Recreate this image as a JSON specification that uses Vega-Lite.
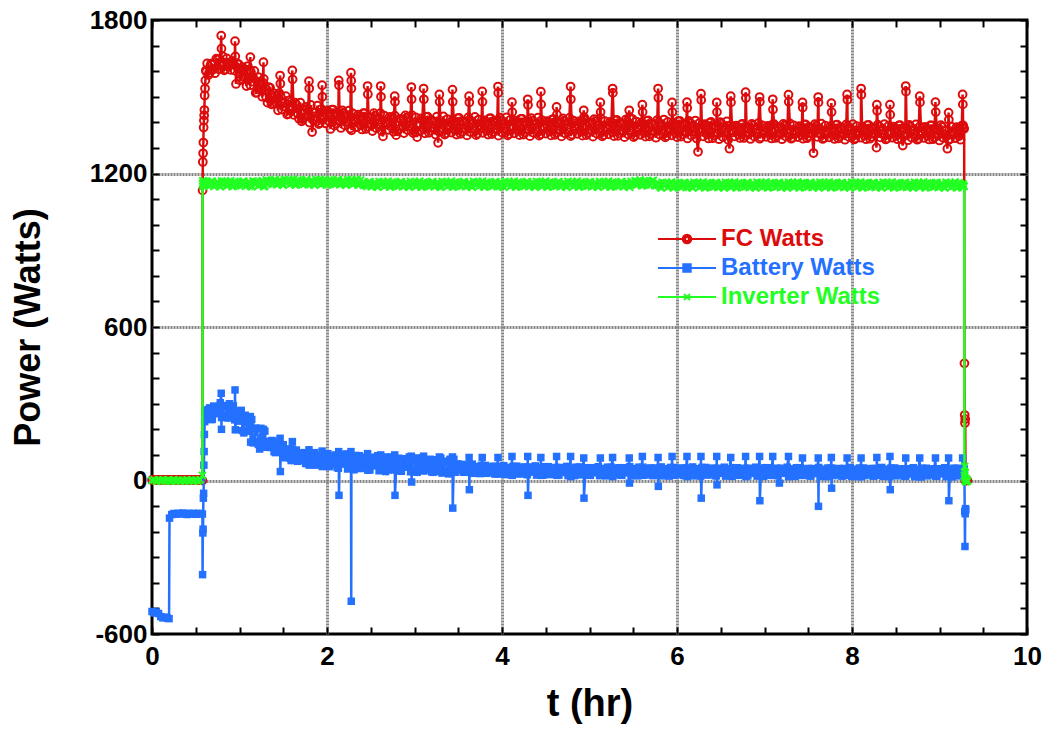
{
"$schema":"https://vega.github.io/schema/vega-lite/v6.json",
"width":875,"height":614,
"autosize":{"type":"none"},
"padding":{"left":152,"top":20,"right":20,"bottom":98},
"background":"white",
"config":{"view":{"stroke":"black","strokeWidth":3},"font":"Liberation Sans",
 "axis":{"domain":false,"labelFont":"Liberation Sans","labelFontWeight":"bold","labelFontSize":26,"labelColor":"black","titleFont":"Liberation Sans","titleFontWeight":"bold","titleColor":"black","tickColor":"black","tickWidth":2,"labelOverlap":false,"labelFlush":false,"gridColor":"#858585","gridWidth":3,"gridDash":[2,1]}},
"data":{"values":[
{"t":0,"f":2,"b":-512,"i":0},{"t":0.025,"f":2,"b":-518,"i":3},{"t":0.05,"f":2,"b":-514,"i":-3},{"t":0.075,"f":2,"b":-520,"i":2},{"t":0.1,"f":2,"b":-532,"i":-2},{"t":0.125,"f":2,"b":-537,"i":3},{"t":0.15,"f":2,"b":-534,"i":-1},{"t":0.175,"f":2,"b":-538,"i":2},{"t":0.195,"f":2,"b":-540,"i":-3},{"t":0.2,"f":2,"b":-147,"i":1},{"t":0.225,"f":2,"b":-133,"i":-2},{"t":0.25,"f":2,"b":-129,"i":3},{"t":0.275,"f":2,"b":-132,"i":-1},{"t":0.3,"f":2,"b":-128,"i":2},{"t":0.325,"f":2,"b":-131,"i":-3},{"t":0.35,"f":2,"b":-127,"i":1},{"t":0.375,"f":2,"b":-130,"i":-2},{"t":0.4,"f":2,"b":-133,"i":3},{"t":0.425,"f":2,"b":-128,"i":-1},{"t":0.45,"f":2,"b":-131,"i":2},{"t":0.475,"f":2,"b":-129,"i":-3},{"t":0.5,"f":2,"b":-132,"i":1},{"t":0.525,"f":2,"b":-128,"i":-2},{"t":0.55,"f":2,"b":-130,"i":3},{"t":0.576,"f":0,"b":-131,"i":20},
{"t":0.578,"f":1134,"b":-368,"i":1160},{"t":0.581,"f":1245,"b":-205,"i":1172},{"t":0.584,"f":1279,"b":-190,"i":1150},{"t":0.587,"f":1321,"b":-69,"i":1165},{"t":0.59,"f":1380,"b":-50,"i":1158},{"t":0.593,"f":1407,"b":60,"i":1170},{"t":0.596,"f":1427,"b":113,"i":1162},{"t":0.599,"f":1448,"b":180,"i":1166},{"t":0.602,"f":1505,"b":230,"i":1155},{"t":0.606,"f":1532,"b":263,"i":1168},{"t":0.61,"f":1564,"b":240,"i":1160},{"t":0.615,"f":1603,"b":250,"i":1164},{"t":0.62,"f":1598,"b":275,"i":1157},
{"t":0.63,"f":1630,"b":240,"i":1165},{"t":0.66,"f":1593,"b":284,"i":1152},{"t":0.69,"f":1626,"b":239,"i":1170},{"t":0.72,"f":1592,"b":279,"i":1157},{"t":0.75,"f":1645,"b":266,"i":1167},{"t":0.78,"f":1622,"b":304,"i":1148},{"t":0.81,"f":1658,"b":254,"i":1162},{"t":0.84,"f":1607,"b":293,"i":1169},{"t":0.87,"f":1631,"b":244,"i":1154},{"t":0.9,"f":1605,"b":278,"i":1172},{"t":0.93,"f":1632,"b":292,"i":1150},{"t":0.96,"f":1550,"b":243,"i":1164},{"t":0.99,"f":1627,"b":232,"i":1165},
{"t":1.02,"f":1570,"b":274,"i":1152},{"t":1.05,"f":1606,"b":186,"i":1170},{"t":1.08,"f":1542,"b":228,"i":1157},{"t":1.11,"f":1606,"b":193,"i":1167},{"t":1.14,"f":1559,"b":238,"i":1148},{"t":1.17,"f":1601,"b":152,"i":1162},{"t":1.2,"f":1516,"b":202,"i":1169},{"t":1.23,"f":1545,"b":123,"i":1154},{"t":1.26,"f":1500,"b":169,"i":1172},{"t":1.29,"f":1540,"b":193,"i":1150},
{"t":1.32,"f":1477,"b":136,"i":1170},{"t":1.35,"f":1535,"b":129,"i":1171},{"t":1.38,"f":1474,"b":156,"i":1158},{"t":1.41,"f":1503,"b":109,"i":1176},{"t":1.44,"f":1447,"b":134,"i":1163},{"t":1.47,"f":1502,"b":115,"i":1173},{"t":1.5,"f":1462,"b":140,"i":1154},{"t":1.53,"f":1502,"b":93,"i":1168},{"t":1.56,"f":1433,"b":122,"i":1175},{"t":1.59,"f":1463,"b":78,"i":1160},{"t":1.62,"f":1429,"b":105,"i":1178},{"t":1.65,"f":1469,"b":119,"i":1156},{"t":1.68,"f":1414,"b":84,"i":1170},{"t":1.71,"f":1404,"b":79,"i":1171},{"t":1.74,"f":1419,"b":109,"i":1158},{"t":1.77,"f":1452,"b":66,"i":1176},{"t":1.8,"f":1399,"b":94,"i":1163},{"t":1.83,"f":1362,"b":80,"i":1173},{"t":1.86,"f":1423,"b":109,"i":1154},{"t":1.89,"f":1465,"b":65,"i":1168},{"t":1.92,"f":1397,"b":96,"i":1175},{"t":1.95,"f":1428,"b":55,"i":1160},{"t":1.98,"f":1396,"b":84,"i":1178},
{"t":2.01,"f":1439,"b":105,"i":1156},{"t":2.04,"f":1374,"b":65,"i":1170},{"t":2.07,"f":1450,"b":62,"i":1171},{"t":2.1,"f":1395,"b":100,"i":1158},{"t":2.13,"f":1429,"b":48,"i":1176},{"t":2.16,"f":1378,"b":84,"i":1163},{"t":2.19,"f":1437,"b":68,"i":1173},{"t":2.22,"f":1403,"b":104,"i":1154},{"t":2.25,"f":1446,"b":52,"i":1168},{"t":2.28,"f":1369,"b":90,"i":1175},{"t":2.31,"f":1412,"b":42,"i":1160},{"t":2.34,"f":1381,"b":77,"i":1178},{"t":2.37,"f":1424,"b":97,"i":1156},{"t":2.4,"f":1372,"b":58,"i":1162},{"t":2.43,"f":1436,"b":54,"i":1163},{"t":2.46,"f":1382,"b":93,"i":1150},{"t":2.49,"f":1417,"b":41,"i":1168},{"t":2.52,"f":1366,"b":77,"i":1155},{"t":2.55,"f":1426,"b":61,"i":1165},{"t":2.58,"f":1393,"b":97,"i":1146},{"t":2.61,"f":1436,"b":45,"i":1160},{"t":2.64,"f":1345,"b":84,"i":1167},{"t":2.67,"f":1402,"b":35,"i":1152},{"t":2.7,"f":1371,"b":71,"i":1170},{"t":2.73,"f":1414,"b":91,"i":1148},{"t":2.76,"f":1363,"b":52,"i":1162},{"t":2.79,"f":1350,"b":48,"i":1163},{"t":2.82,"f":1373,"b":87,"i":1150},{"t":2.85,"f":1408,"b":36,"i":1168},{"t":2.88,"f":1358,"b":71,"i":1155},{"t":2.91,"f":1418,"b":56,"i":1165},{"t":2.94,"f":1385,"b":92,"i":1146},{"t":2.97,"f":1428,"b":41,"i":1160},{"t":3.0,"f":1363,"b":80,"i":1167},{"t":3.03,"f":1342,"b":32,"i":1152},{"t":3.06,"f":1365,"b":67,"i":1170},{"t":3.09,"f":1409,"b":88,"i":1148},{"t":3.12,"f":1357,"b":48,"i":1162},{"t":3.15,"f":1422,"b":45,"i":1163},{"t":3.18,"f":1367,"b":83,"i":1150},{"t":3.21,"f":1403,"b":32,"i":1168},{"t":3.24,"f":1352,"b":67,"i":1155},{"t":3.27,"f":1320,"b":52,"i":1165},{"t":3.3,"f":1379,"b":88,"i":1146},{"t":3.33,"f":1423,"b":36,"i":1160},{"t":3.36,"f":1357,"b":75,"i":1167},{"t":3.39,"f":1390,"b":26,"i":1152},{"t":3.42,"f":1360,"b":62,"i":1170},{"t":3.45,"f":1403,"b":83,"i":1148},{"t":3.48,"f":1352,"b":43,"i":1162},
{"t":3.51,"f":1417,"b":41,"i":1163},{"t":3.54,"f":1363,"b":63,"i":1150},{"t":3.57,"f":1399,"b":32,"i":1168},{"t":3.6,"f":1349,"b":52,"i":1155},{"t":3.63,"f":1410,"b":43,"i":1165},{"t":3.66,"f":1377,"b":64,"i":1146},{"t":3.69,"f":1421,"b":32,"i":1160},{"t":3.72,"f":1356,"b":55,"i":1167},{"t":3.75,"f":1389,"b":27,"i":1152},{"t":3.78,"f":1359,"b":48,"i":1170},{"t":3.81,"f":1403,"b":59,"i":1148},{"t":3.84,"f":1352,"b":36,"i":1162},{"t":3.87,"f":1416,"b":33,"i":1163},{"t":3.9,"f":1362,"b":56,"i":1150},{"t":3.93,"f":1398,"b":26,"i":1168},{"t":3.96,"f":1348,"b":46,"i":1155},{"t":3.99,"f":1409,"b":36,"i":1165},{"t":4.02,"f":1376,"b":58,"i":1146},{"t":4.05,"f":1419,"b":27,"i":1160},{"t":4.08,"f":1354,"b":51,"i":1167},{"t":4.11,"f":1387,"b":22,"i":1152},{"t":4.14,"f":1357,"b":44,"i":1170},{"t":4.17,"f":1401,"b":56,"i":1148},{"t":4.2,"f":1350,"b":32,"i":1162},{"t":4.23,"f":1414,"b":30,"i":1163},{"t":4.26,"f":1360,"b":53,"i":1150},{"t":4.29,"f":1396,"b":23,"i":1168},{"t":4.32,"f":1346,"b":44,"i":1155},{"t":4.35,"f":1407,"b":35,"i":1165},{"t":4.38,"f":1374,"b":57,"i":1146},{"t":4.41,"f":1418,"b":26,"i":1160},{"t":4.44,"f":1353,"b":50,"i":1167},{"t":4.47,"f":1386,"b":21,"i":1152},{"t":4.5,"f":1356,"b":42,"i":1170},{"t":4.53,"f":1400,"b":54,"i":1148},{"t":4.56,"f":1349,"b":31,"i":1162},{"t":4.59,"f":1413,"b":28,"i":1163},{"t":4.62,"f":1359,"b":51,"i":1150},{"t":4.65,"f":1395,"b":21,"i":1168},{"t":4.68,"f":1345,"b":42,"i":1155},{"t":4.71,"f":1406,"b":33,"i":1165},{"t":4.74,"f":1373,"b":55,"i":1146},{"t":4.77,"f":1417,"b":24,"i":1160},{"t":4.8,"f":1352,"b":48,"i":1167},{"t":4.83,"f":1385,"b":19,"i":1152},{"t":4.86,"f":1355,"b":41,"i":1170},{"t":4.89,"f":1399,"b":53,"i":1148},{"t":4.92,"f":1348,"b":30,"i":1162},{"t":4.95,"f":1412,"b":27,"i":1163},{"t":4.98,"f":1358,"b":50,"i":1150},{"t":5.01,"f":1394,"b":20,"i":1168},{"t":5.04,"f":1344,"b":41,"i":1155},{"t":5.07,"f":1405,"b":32,"i":1165},{"t":5.1,"f":1372,"b":54,"i":1146},{"t":5.13,"f":1415,"b":23,"i":1160},{"t":5.16,"f":1350,"b":47,"i":1167},{"t":5.19,"f":1383,"b":18,"i":1152},{"t":5.22,"f":1353,"b":40,"i":1170},{"t":5.25,"f":1397,"b":52,"i":1148},{"t":5.28,"f":1346,"b":29,"i":1162},{"t":5.31,"f":1410,"b":27,"i":1163},{"t":5.34,"f":1356,"b":50,"i":1150},{"t":5.37,"f":1392,"b":20,"i":1168},{"t":5.4,"f":1342,"b":41,"i":1155},{"t":5.43,"f":1403,"b":32,"i":1165},{"t":5.46,"f":1370,"b":54,"i":1146},{"t":5.49,"f":1413,"b":23,"i":1160},{"t":5.52,"f":1348,"b":47,"i":1172},{"t":5.55,"f":1381,"b":18,"i":1157},{"t":5.58,"f":1351,"b":40,"i":1175},{"t":5.61,"f":1395,"b":52,"i":1153},{"t":5.64,"f":1344,"b":29,"i":1167},{"t":5.67,"f":1408,"b":26,"i":1168},{"t":5.7,"f":1354,"b":49,"i":1155},{"t":5.73,"f":1390,"b":19,"i":1173},{"t":5.76,"f":1340,"b":40,"i":1152},{"t":5.79,"f":1401,"b":31,"i":1162},{"t":5.82,"f":1368,"b":53,"i":1143},{"t":5.85,"f":1411,"b":22,"i":1157},{"t":5.88,"f":1346,"b":46,"i":1164},{"t":5.91,"f":1379,"b":17,"i":1149},{"t":5.94,"f":1349,"b":39,"i":1167},{"t":5.97,"f":1393,"b":51,"i":1145},{"t":6.0,"f":1342,"b":28,"i":1159},{"t":6.03,"f":1406,"b":26,"i":1160},{"t":6.06,"f":1352,"b":49,"i":1147},{"t":6.09,"f":1387,"b":19,"i":1165},{"t":6.12,"f":1337,"b":40,"i":1152},{"t":6.15,"f":1398,"b":31,"i":1162},{"t":6.18,"f":1365,"b":53,"i":1143},{"t":6.21,"f":1407,"b":22,"i":1157},{"t":6.24,"f":1285,"b":46,"i":1164},{"t":6.27,"f":1375,"b":17,"i":1149},{"t":6.3,"f":1345,"b":39,"i":1167},{"t":6.33,"f":1388,"b":51,"i":1145},{"t":6.36,"f":1337,"b":28,"i":1159},{"t":6.39,"f":1402,"b":25,"i":1160},{"t":6.42,"f":1348,"b":48,"i":1147},{"t":6.45,"f":1384,"b":18,"i":1165},{"t":6.48,"f":1334,"b":39,"i":1152},{"t":6.51,"f":1395,"b":30,"i":1162},{"t":6.54,"f":1362,"b":52,"i":1143},{"t":6.57,"f":1404,"b":21,"i":1157},{"t":6.6,"f":1297,"b":45,"i":1164},
{"t":6.63,"f":1370,"b":16,"i":1149},{"t":6.66,"f":1345,"b":38,"i":1167},{"t":6.69,"f":1382,"b":50,"i":1145},{"t":6.72,"f":1339,"b":27,"i":1159},{"t":6.75,"f":1394,"b":25,"i":1160},{"t":6.78,"f":1347,"b":48,"i":1147},{"t":6.81,"f":1378,"b":18,"i":1165},{"t":6.84,"f":1335,"b":39,"i":1152},{"t":6.87,"f":1388,"b":30,"i":1162},{"t":6.9,"f":1359,"b":52,"i":1143},{"t":6.93,"f":1397,"b":21,"i":1157},{"t":6.96,"f":1341,"b":45,"i":1164},{"t":6.99,"f":1368,"b":16,"i":1149},{"t":7.02,"f":1343,"b":38,"i":1167},{"t":7.05,"f":1380,"b":50,"i":1145},{"t":7.08,"f":1337,"b":27,"i":1159},{"t":7.11,"f":1393,"b":25,"i":1160},{"t":7.14,"f":1346,"b":48,"i":1147},{"t":7.17,"f":1377,"b":-10,"i":1165},{"t":7.2,"f":1334,"b":39,"i":1152},{"t":7.23,"f":1387,"b":30,"i":1162},{"t":7.26,"f":1358,"b":52,"i":1143},{"t":7.29,"f":1396,"b":21,"i":1157},{"t":7.32,"f":1340,"b":45,"i":1164},{"t":7.35,"f":1367,"b":16,"i":1149},{"t":7.38,"f":1342,"b":38,"i":1167},{"t":7.41,"f":1379,"b":50,"i":1145},{"t":7.44,"f":1336,"b":27,"i":1159},{"t":7.47,"f":1392,"b":24,"i":1160},{"t":7.5,"f":1345,"b":47,"i":1147},{"t":7.53,"f":1376,"b":17,"i":1165},{"t":7.56,"f":1280,"b":38,"i":1152},{"t":7.59,"f":1386,"b":29,"i":1162},{"t":7.62,"f":1357,"b":51,"i":1143},{"t":7.65,"f":1395,"b":20,"i":1157},{"t":7.68,"f":1339,"b":44,"i":1164},{"t":7.71,"f":1366,"b":15,"i":1149},{"t":7.74,"f":1341,"b":37,"i":1167},{"t":7.77,"f":1378,"b":49,"i":1145},{"t":7.8,"f":1335,"b":26,"i":1159},{"t":7.83,"f":1391,"b":24,"i":1160},{"t":7.86,"f":1344,"b":47,"i":1147},{"t":7.89,"f":1375,"b":17,"i":1165},{"t":7.92,"f":1332,"b":38,"i":1152},{"t":7.95,"f":1385,"b":29,"i":1162},{"t":7.98,"f":1356,"b":51,"i":1143},{"t":8.01,"f":1393,"b":20,"i":1157},{"t":8.04,"f":1337,"b":44,"i":1164},{"t":8.07,"f":1365,"b":15,"i":1149},{"t":8.1,"f":1340,"b":37,"i":1167},{"t":8.13,"f":1377,"b":49,"i":1145},{"t":8.16,"f":1334,"b":26,"i":1159},{"t":8.19,"f":1390,"b":24,"i":1160},{"t":8.22,"f":1343,"b":47,"i":1147},{"t":8.25,"f":1374,"b":17,"i":1165},{"t":8.28,"f":1301,"b":38,"i":1152},{"t":8.31,"f":1384,"b":29,"i":1162},{"t":8.34,"f":1355,"b":51,"i":1143},{"t":8.37,"f":1393,"b":20,"i":1157},{"t":8.4,"f":1337,"b":44,"i":1164},{"t":8.43,"f":1365,"b":15,"i":1149},{"t":8.46,"f":1340,"b":37,"i":1167},{"t":8.49,"f":1377,"b":49,"i":1145},{"t":8.52,"f":1334,"b":26,"i":1159},{"t":8.55,"f":1389,"b":23,"i":1160},{"t":8.58,"f":1309,"b":46,"i":1147},{"t":8.61,"f":1373,"b":16,"i":1165},{"t":8.64,"f":1330,"b":37,"i":1152},{"t":8.67,"f":1383,"b":28,"i":1162},{"t":8.7,"f":1354,"b":50,"i":1143},{"t":8.73,"f":1392,"b":19,"i":1157},{"t":8.76,"f":1336,"b":43,"i":1164},{"t":8.79,"f":1364,"b":14,"i":1149},{"t":8.82,"f":1339,"b":36,"i":1167},{"t":8.85,"f":1376,"b":48,"i":1145},{"t":8.88,"f":1333,"b":25,"i":1159},{"t":8.91,"f":1388,"b":23,"i":1160},{"t":8.94,"f":1341,"b":46,"i":1147},{"t":8.97,"f":1372,"b":16,"i":1165},{"t":9.0,"f":1329,"b":37,"i":1152},{"t":9.03,"f":1382,"b":28,"i":1162},{"t":9.06,"f":1353,"b":50,"i":1143},{"t":9.09,"f":1297,"b":19,"i":1157},{"t":9.12,"f":1335,"b":43,"i":1164},{"t":9.15,"f":1363,"b":14,"i":1149},{"t":9.18,"f":1338,"b":36,"i":1167},{"t":9.21,"f":1375,"b":48,"i":1145},{"t":9.24,"f":1332,"b":25,"i":1159},{"t":9.27,"f":1388,"b":23,"i":1160},
{"t":0.645,"f":1585,"b":278,"i":1154},{"t":0.675,"f":1629,"b":238,"i":1169},{"t":0.705,"f":1608,"b":291,"i":1150},{"t":0.735,"f":1649,"b":261,"i":1164},{"t":0.765,"f":1607,"b":286,"i":1153},{"t":0.795,"f":1637,"b":246,"i":1171},{"t":0.825,"f":1603,"b":292,"i":1157},{"t":0.855,"f":1650,"b":255,"i":1152},{"t":0.885,"f":1621,"b":300,"i":1166},{"t":0.915,"f":1640,"b":263,"i":1149},{"t":0.945,"f":1602,"b":237,"i":1169},{"t":0.975,"f":1630,"b":261,"i":1156},
{"t":1.005,"f":1564,"b":273,"i":1154},{"t":1.035,"f":1616,"b":195,"i":1169},{"t":1.065,"f":1573,"b":255,"i":1150},{"t":1.095,"f":1620,"b":193,"i":1164},{"t":1.125,"f":1545,"b":218,"i":1153},{"t":1.155,"f":1576,"b":147,"i":1171},{"t":1.185,"f":1515,"b":205,"i":1157},{"t":1.215,"f":1577,"b":141,"i":1152},{"t":1.245,"f":1528,"b":204,"i":1166},{"t":1.275,"f":1553,"b":150,"i":1149},
{"t":1.305,"f":1498,"b":130,"i":1175},{"t":1.335,"f":1538,"b":152,"i":1162},{"t":1.365,"f":1470,"b":156,"i":1160},{"t":1.395,"f":1513,"b":113,"i":1175},{"t":1.425,"f":1474,"b":149,"i":1156},{"t":1.455,"f":1514,"b":115,"i":1170},{"t":1.485,"f":1450,"b":129,"i":1159},{"t":1.515,"f":1478,"b":89,"i":1177},{"t":1.545,"f":1430,"b":123,"i":1163},{"t":1.575,"f":1487,"b":88,"i":1158},{"t":1.605,"f":1451,"b":123,"i":1172},{"t":1.635,"f":1477,"b":94,"i":1155},{"t":1.665,"f":1433,"b":75,"i":1175},{"t":1.695,"f":1477,"b":100,"i":1162},{"t":1.725,"f":1413,"b":107,"i":1160},{"t":1.755,"f":1460,"b":67,"i":1175},{"t":1.785,"f":1425,"b":107,"i":1156},{"t":1.815,"f":1468,"b":78,"i":1170},{"t":1.845,"f":1408,"b":96,"i":1159},{"t":1.875,"f":1440,"b":60,"i":1177},{"t":1.905,"f":1393,"b":96,"i":1163},{"t":1.935,"f":1452,"b":64,"i":1158},{"t":1.965,"f":1417,"b":102,"i":1172},{"t":1.995,"f":1446,"b":75,"i":1155},
{"t":2.025,"f":1404,"b":54,"i":1175},{"t":2.055,"f":1450,"b":87,"i":1162},{"t":2.085,"f":1387,"b":96,"i":1160},{"t":2.115,"f":1436,"b":51,"i":1175},{"t":2.145,"f":1403,"b":98,"i":1156},{"t":2.175,"f":1447,"b":64,"i":1170},{"t":2.205,"f":1388,"b":87,"i":1159},{"t":2.235,"f":1421,"b":45,"i":1177},{"t":2.265,"f":1376,"b":90,"i":1163},{"t":2.295,"f":1435,"b":52,"i":1158},{"t":2.325,"f":1401,"b":98,"i":1172},{"t":2.355,"f":1430,"b":66,"i":1155},{"t":2.385,"f":1389,"b":47,"i":1175},{"t":2.415,"f":1436,"b":80,"i":1154},{"t":2.445,"f":1374,"b":89,"i":1152},{"t":2.475,"f":1423,"b":43,"i":1167},{"t":2.505,"f":1390,"b":91,"i":1148},{"t":2.535,"f":1436,"b":57,"i":1162},{"t":2.565,"f":1377,"b":80,"i":1151},{"t":2.595,"f":1410,"b":38,"i":1169},{"t":2.625,"f":1366,"b":83,"i":1155},{"t":2.655,"f":1426,"b":45,"i":1150},{"t":2.685,"f":1392,"b":92,"i":1164},{"t":2.715,"f":1421,"b":59,"i":1147},{"t":2.745,"f":1380,"b":41,"i":1167},{"t":2.775,"f":1426,"b":73,"i":1154},{"t":2.805,"f":1365,"b":83,"i":1152},{"t":2.835,"f":1414,"b":38,"i":1167},{"t":2.865,"f":1382,"b":85,"i":1148},{"t":2.895,"f":1427,"b":52,"i":1162},{"t":2.925,"f":1369,"b":75,"i":1151},{"t":2.955,"f":1402,"b":34,"i":1169},{"t":2.985,"f":1358,"b":79,"i":1155},{"t":3.015,"f":1419,"b":42,"i":1150},{"t":3.045,"f":1385,"b":88,"i":1164},{"t":3.075,"f":1415,"b":56,"i":1147},{"t":3.105,"f":1374,"b":37,"i":1167},{"t":3.135,"f":1421,"b":70,"i":1154},{"t":3.165,"f":1359,"b":79,"i":1152},{"t":3.195,"f":1409,"b":34,"i":1167},{"t":3.225,"f":1376,"b":81,"i":1148},{"t":3.255,"f":1422,"b":48,"i":1162},{"t":3.285,"f":1363,"b":71,"i":1151},{"t":3.315,"f":1397,"b":29,"i":1169},{"t":3.345,"f":1352,"b":74,"i":1155},{"t":3.375,"f":1413,"b":36,"i":1150},{"t":3.405,"f":1380,"b":83,"i":1164},{"t":3.435,"f":1409,"b":51,"i":1147},{"t":3.465,"f":1369,"b":32,"i":1167},{"t":3.495,"f":1416,"b":65,"i":1154},
{"t":3.525,"f":1355,"b":61,"i":1152},{"t":3.555,"f":1405,"b":33,"i":1167},{"t":3.585,"f":1373,"b":61,"i":1148},{"t":3.615,"f":1419,"b":40,"i":1162},{"t":3.645,"f":1361,"b":54,"i":1151},{"t":3.675,"f":1395,"b":28,"i":1169},{"t":3.705,"f":1350,"b":54,"i":1155},{"t":3.735,"f":1411,"b":32,"i":1150},{"t":3.765,"f":1378,"b":59,"i":1164},{"t":3.795,"f":1408,"b":40,"i":1147},{"t":3.825,"f":1368,"b":28,"i":1167},{"t":3.855,"f":1415,"b":48,"i":1154},{"t":3.885,"f":1354,"b":53,"i":1152},{"t":3.915,"f":1404,"b":26,"i":1167},{"t":3.945,"f":1372,"b":54,"i":1148},{"t":3.975,"f":1418,"b":34,"i":1162},{"t":4.005,"f":1359,"b":48,"i":1151},{"t":4.035,"f":1393,"b":23,"i":1169},{"t":4.065,"f":1349,"b":50,"i":1155},{"t":4.095,"f":1410,"b":28,"i":1150},{"t":4.125,"f":1377,"b":55,"i":1164},{"t":4.155,"f":1407,"b":36,"i":1147},{"t":4.185,"f":1367,"b":25,"i":1167},{"t":4.215,"f":1414,"b":45,"i":1154},{"t":4.245,"f":1352,"b":51,"i":1152},{"t":4.275,"f":1402,"b":24,"i":1167},{"t":4.305,"f":1370,"b":53,"i":1148},{"t":4.335,"f":1416,"b":33,"i":1162},{"t":4.365,"f":1358,"b":46,"i":1151},{"t":4.395,"f":1392,"b":21,"i":1169},{"t":4.425,"f":1348,"b":48,"i":1155},{"t":4.455,"f":1409,"b":26,"i":1150},{"t":4.485,"f":1375,"b":54,"i":1164},{"t":4.515,"f":1405,"b":34,"i":1147},{"t":4.545,"f":1365,"b":23,"i":1167},{"t":4.575,"f":1412,"b":43,"i":1154},{"t":4.605,"f":1351,"b":49,"i":1152},{"t":4.635,"f":1401,"b":22,"i":1167},{"t":4.665,"f":1369,"b":51,"i":1148},{"t":4.695,"f":1415,"b":31,"i":1162},{"t":4.725,"f":1356,"b":44,"i":1151},{"t":4.755,"f":1390,"b":19,"i":1169},{"t":4.785,"f":1346,"b":46,"i":1155},{"t":4.815,"f":1407,"b":24,"i":1150},{"t":4.845,"f":1374,"b":52,"i":1164},{"t":4.875,"f":1404,"b":33,"i":1147},{"t":4.905,"f":1364,"b":22,"i":1167},{"t":4.935,"f":1411,"b":42,"i":1154},{"t":4.965,"f":1350,"b":48,"i":1152},{"t":4.995,"f":1400,"b":21,"i":1167},{"t":5.025,"f":1368,"b":50,"i":1148},{"t":5.055,"f":1413,"b":30,"i":1162},{"t":5.085,"f":1355,"b":44,"i":1151},{"t":5.115,"f":1389,"b":19,"i":1169},{"t":5.145,"f":1345,"b":46,"i":1155},{"t":5.175,"f":1405,"b":24,"i":1150},{"t":5.205,"f":1372,"b":52,"i":1164},{"t":5.235,"f":1402,"b":33,"i":1147},{"t":5.265,"f":1362,"b":22,"i":1167},{"t":5.295,"f":1408,"b":42,"i":1154},{"t":5.325,"f":1347,"b":48,"i":1152},{"t":5.355,"f":1397,"b":21,"i":1167},{"t":5.385,"f":1365,"b":50,"i":1148},{"t":5.415,"f":1411,"b":30,"i":1162},{"t":5.445,"f":1352,"b":44,"i":1151},{"t":5.475,"f":1386,"b":19,"i":1169},{"t":5.505,"f":1342,"b":46,"i":1160},{"t":5.535,"f":1403,"b":24,"i":1155},{"t":5.565,"f":1370,"b":52,"i":1169},{"t":5.595,"f":1400,"b":33,"i":1152},{"t":5.625,"f":1359,"b":21,"i":1172},{"t":5.655,"f":1406,"b":41,"i":1159},{"t":5.685,"f":1345,"b":47,"i":1157},{"t":5.715,"f":1395,"b":20,"i":1172},{"t":5.745,"f":1363,"b":49,"i":1153},{"t":5.775,"f":1409,"b":29,"i":1159},{"t":5.805,"f":1351,"b":43,"i":1148},{"t":5.835,"f":1385,"b":18,"i":1166},{"t":5.865,"f":1341,"b":45,"i":1152},{"t":5.895,"f":1402,"b":23,"i":1147},{"t":5.925,"f":1369,"b":51,"i":1161},{"t":5.955,"f":1399,"b":32,"i":1144},{"t":5.985,"f":1359,"b":21,"i":1164},{"t":6.015,"f":1405,"b":41,"i":1151},{"t":6.045,"f":1344,"b":47,"i":1149},{"t":6.075,"f":1393,"b":20,"i":1164},{"t":6.105,"f":1361,"b":49,"i":1145},{"t":6.135,"f":1406,"b":29,"i":1159},{"t":6.165,"f":1348,"b":43,"i":1148},{"t":6.195,"f":1381,"b":18,"i":1166},{"t":6.225,"f":1337,"b":45,"i":1152},{"t":6.255,"f":1397,"b":23,"i":1147},{"t":6.285,"f":1364,"b":51,"i":1161},{"t":6.315,"f":1393,"b":32,"i":1144},{"t":6.345,"f":1353,"b":21,"i":1164},{"t":6.375,"f":1399,"b":41,"i":1151},{"t":6.405,"f":1338,"b":47,"i":1149},{"t":6.435,"f":1387,"b":19,"i":1164},{"t":6.465,"f":1355,"b":48,"i":1145},{"t":6.495,"f":1401,"b":28,"i":1159},{"t":6.525,"f":1342,"b":42,"i":1148},{"t":6.555,"f":1376,"b":17,"i":1166},{"t":6.585,"f":1332,"b":44,"i":1152},
{"t":6.615,"f":1389,"b":22,"i":1147},{"t":6.645,"f":1361,"b":50,"i":1161},{"t":6.675,"f":1387,"b":31,"i":1144},{"t":6.705,"f":1351,"b":20,"i":1164},{"t":6.735,"f":1392,"b":40,"i":1151},{"t":6.765,"f":1339,"b":46,"i":1149},{"t":6.795,"f":1382,"b":19,"i":1164},{"t":6.825,"f":1355,"b":48,"i":1145},{"t":6.855,"f":1394,"b":28,"i":1159},{"t":6.885,"f":1344,"b":42,"i":1148},{"t":6.915,"f":1374,"b":17,"i":1166},{"t":6.945,"f":1336,"b":44,"i":1152},{"t":6.975,"f":1388,"b":22,"i":1147},{"t":7.005,"f":1360,"b":50,"i":1161},{"t":7.035,"f":1386,"b":31,"i":1144},{"t":7.065,"f":1351,"b":20,"i":1164},{"t":7.095,"f":1392,"b":40,"i":1151},{"t":7.125,"f":1339,"b":46,"i":1149},{"t":7.155,"f":1382,"b":19,"i":1164},{"t":7.185,"f":1355,"b":48,"i":1145},{"t":7.215,"f":1394,"b":28,"i":1159},{"t":7.245,"f":1344,"b":42,"i":1148},{"t":7.275,"f":1374,"b":17,"i":1166},{"t":7.305,"f":1336,"b":44,"i":1152},{"t":7.335,"f":1388,"b":22,"i":1147},{"t":7.365,"f":1359,"b":50,"i":1161},{"t":7.395,"f":1385,"b":31,"i":1144},{"t":7.425,"f":1350,"b":20,"i":1164},{"t":7.455,"f":1391,"b":40,"i":1151},{"t":7.485,"f":1338,"b":45,"i":1149},{"t":7.515,"f":1381,"b":18,"i":1164},{"t":7.545,"f":1354,"b":47,"i":1145},{"t":7.575,"f":1393,"b":27,"i":1159},{"t":7.605,"f":1343,"b":41,"i":1148},{"t":7.635,"f":1373,"b":16,"i":1166},{"t":7.665,"f":1335,"b":43,"i":1152},{"t":7.695,"f":1387,"b":21,"i":1147},{"t":7.725,"f":1359,"b":49,"i":1161},{"t":7.755,"f":1385,"b":30,"i":1144},{"t":7.785,"f":1349,"b":19,"i":1164},{"t":7.815,"f":1390,"b":39,"i":1151},{"t":7.845,"f":1337,"b":45,"i":1149},{"t":7.875,"f":1380,"b":18,"i":1164},{"t":7.905,"f":1353,"b":47,"i":1145},{"t":7.935,"f":1392,"b":27,"i":1159},{"t":7.965,"f":1342,"b":41,"i":1148},{"t":7.995,"f":1372,"b":16,"i":1166},{"t":8.025,"f":1333,"b":43,"i":1152},{"t":8.055,"f":1385,"b":21,"i":1147},{"t":8.085,"f":1357,"b":49,"i":1161},{"t":8.115,"f":1383,"b":30,"i":1144},{"t":8.145,"f":1348,"b":19,"i":1164},{"t":8.175,"f":1389,"b":39,"i":1151},{"t":8.205,"f":1336,"b":45,"i":1149},{"t":8.235,"f":1379,"b":18,"i":1164},{"t":8.265,"f":1352,"b":47,"i":1145},{"t":8.295,"f":1391,"b":27,"i":1159},{"t":8.325,"f":1341,"b":41,"i":1148},{"t":8.355,"f":1371,"b":16,"i":1166},{"t":8.385,"f":1333,"b":43,"i":1152},{"t":8.415,"f":1385,"b":21,"i":1147},{"t":8.445,"f":1357,"b":49,"i":1161},{"t":8.475,"f":1383,"b":30,"i":1144},{"t":8.505,"f":1347,"b":18,"i":1164},{"t":8.535,"f":1388,"b":38,"i":1151},{"t":8.565,"f":1335,"b":44,"i":1149},{"t":8.595,"f":1378,"b":17,"i":1164},{"t":8.625,"f":1351,"b":46,"i":1145},{"t":8.655,"f":1390,"b":26,"i":1159},{"t":8.685,"f":1340,"b":40,"i":1148},{"t":8.715,"f":1370,"b":15,"i":1166},{"t":8.745,"f":1332,"b":42,"i":1152},{"t":8.775,"f":1384,"b":20,"i":1147},{"t":8.805,"f":1356,"b":48,"i":1161},{"t":8.835,"f":1382,"b":29,"i":1144},{"t":8.865,"f":1347,"b":18,"i":1164},{"t":8.895,"f":1388,"b":38,"i":1151},{"t":8.925,"f":1334,"b":44,"i":1149},{"t":8.955,"f":1377,"b":17,"i":1164},{"t":8.985,"f":1350,"b":46,"i":1145},{"t":9.015,"f":1389,"b":26,"i":1159},{"t":9.045,"f":1339,"b":40,"i":1148},{"t":9.075,"f":1369,"b":15,"i":1166},{"t":9.105,"f":1331,"b":42,"i":1152},{"t":9.135,"f":1383,"b":20,"i":1147},{"t":9.165,"f":1355,"b":48,"i":1161},{"t":9.195,"f":1381,"b":29,"i":1144},{"t":9.225,"f":1346,"b":18,"i":1164},{"t":9.255,"f":1387,"b":38,"i":1151},
{"t":9.275,"f":1380,"b":40,"i":1150},{"t":9.282,"f":1375,"b":45,"i":1150},{"t":9.285,"f":458,"b":30,"i":20},{"t":9.288,"f":256,"b":-121,"i":55},{"t":9.291,"f":225,"b":-258,"i":10},{"t":9.294,"f":240,"b":-130,"i":30},{"t":9.297,"f":0,"b":-110,"i":0},{"t":9.3,"f":0,"b":-115,"i":-5},{"t":9.31,"f":0,"i":5},{"t":9.32,"f":0,"i":-3},
{"t":0.791,"f":1739,"b":341,"i":1160},{"t":0.794,"f":1688,"b":200,"i":1162},
{"t":0.949,"f":1717,"b":354,"i":1160},{"t":0.952,"f":1658,"b":198,"i":1158},
{"t":1.124,"f":1655,"b":250,"i":1162},{"t":1.127,"f":1600,"b":150,"i":1160},
{"t":1.274,"f":1635,"b":200,"i":1166},{"t":1.277,"f":1570,"b":130,"i":1168},
{"t":1.464,"f":1583,"b":165,"i":1166},{"t":1.467,"f":1551,"b":35,"i":1170},
{"t":1.604,"f":1603,"b":152,"i":1166},{"t":1.607,"f":1568,"b":80,"i":1168},
{"t":1.794,"f":1561,"b":120,"i":1166},{"t":1.797,"f":1532,"b":60,"i":1164},
{"t":1.944,"f":1545,"b":115,"i":1166},{"t":1.947,"f":1500,"b":55,"i":1168},
{"t":2.134,"f":1564,"b":113,"i":1166},{"t":2.137,"f":1545,"b":-58,"i":1164},
{"t":2.274,"f":1594,"b":113,"i":1166},{"t":2.277,"f":1563,"b":-472,"i":1168},{"t":2.279,"f":1532,"b":60,"i":1166},
{"t":2.464,"f":1542,"b":105,"i":1158},{"t":2.467,"f":1510,"b":40,"i":1160},
{"t":2.614,"f":1542,"b":100,"i":1158},{"t":2.617,"f":1500,"b":45,"i":1156},
{"t":2.774,"f":1502,"b":100,"i":1158},{"t":2.777,"f":1480,"b":-58,"i":1160},
{"t":2.964,"f":1538,"b":95,"i":1158},{"t":2.967,"f":1490,"b":-6,"i":1156},
{"t":3.104,"f":1532,"b":95,"i":1158},{"t":3.107,"f":1490,"b":40,"i":1160},
{"t":3.284,"f":1509,"b":92,"i":1158},{"t":3.287,"f":1480,"b":35,"i":1156},
{"t":3.434,"f":1528,"b":92,"i":1158},{"t":3.437,"f":1480,"b":-108,"i":1160},
{"t":3.624,"f":1502,"b":90,"i":1158},{"t":3.627,"f":1478,"b":-36,"i":1156},
{"t":3.774,"f":1521,"b":90,"i":1158},{"t":3.777,"f":1480,"b":30,"i":1160},
{"t":3.954,"f":1540,"b":90,"i":1158},{"t":3.957,"f":1515,"b":25,"i":1156},
{"t":4.114,"f":1479,"b":94,"i":1158},{"t":4.117,"f":1440,"b":20,"i":1160},
{"t":4.294,"f":1490,"b":94,"i":1158},{"t":4.297,"f":1468,"b":-58,"i":1156},
{"t":4.444,"f":1520,"b":90,"i":1158},{"t":4.447,"f":1470,"b":20,"i":1160},
{"t":4.624,"f":1460,"b":94,"i":1158},{"t":4.627,"f":1430,"b":20,"i":1156},
{"t":4.784,"f":1540,"b":94,"i":1158},{"t":4.787,"f":1490,"b":15,"i":1160},
{"t":4.934,"f":1447,"b":88,"i":1158},{"t":4.937,"f":1420,"b":-69,"i":1156},
{"t":5.124,"f":1478,"b":88,"i":1158},{"t":5.127,"f":1440,"b":20,"i":1160},
{"t":5.264,"f":1532,"b":90,"i":1158},{"t":5.267,"f":1515,"b":15,"i":1156},
{"t":5.454,"f":1447,"b":88,"i":1158},{"t":5.457,"f":1420,"b":-10,"i":1160},
{"t":5.604,"f":1469,"b":94,"i":1163},{"t":5.607,"f":1440,"b":20,"i":1165},
{"t":5.784,"f":1532,"b":90,"i":1155},{"t":5.787,"f":1496,"b":-23,"i":1157},
{"t":5.944,"f":1478,"b":94,"i":1155},{"t":5.947,"f":1440,"b":20,"i":1153},
{"t":6.114,"f":1479,"b":94,"i":1155},{"t":6.117,"f":1456,"b":15,"i":1157},
{"t":6.274,"f":1512,"b":94,"i":1155},{"t":6.277,"f":1487,"b":-69,"i":1153},
{"t":6.454,"f":1478,"b":94,"i":1155},{"t":6.457,"f":1440,"b":-17,"i":1157},
{"t":6.614,"f":1502,"b":90,"i":1155},{"t":6.617,"f":1478,"b":20,"i":1153},
{"t":6.784,"f":1518,"b":94,"i":1155},{"t":6.787,"f":1495,"b":15,"i":1157},
{"t":6.944,"f":1499,"b":94,"i":1155},{"t":6.947,"f":1480,"b":-79,"i":1153},
{"t":7.094,"f":1490,"b":94,"i":1155},{"t":7.097,"f":1450,"b":20,"i":1157},
{"t":7.274,"f":1508,"b":94,"i":1155},{"t":7.277,"f":1480,"b":15,"i":1153},
{"t":7.434,"f":1478,"b":88,"i":1155},{"t":7.437,"f":1458,"b":20,"i":1157},
{"t":7.614,"f":1499,"b":88,"i":1155},{"t":7.617,"f":1478,"b":-101,"i":1153},
{"t":7.764,"f":1475,"b":90,"i":1155},{"t":7.767,"f":1440,"b":-30,"i":1157},
{"t":7.944,"f":1509,"b":88,"i":1155},{"t":7.947,"f":1488,"b":20,"i":1153},
{"t":8.104,"f":1532,"b":88,"i":1155},{"t":8.107,"f":1508,"b":15,"i":1157},
{"t":8.284,"f":1469,"b":90,"i":1155},{"t":8.287,"f":1445,"b":20,"i":1153},
{"t":8.434,"f":1469,"b":94,"i":1155},{"t":8.437,"f":1430,"b":-36,"i":1157},
{"t":8.614,"f":1542,"b":88,"i":1155},{"t":8.617,"f":1520,"b":20,"i":1153},
{"t":8.774,"f":1502,"b":88,"i":1155},{"t":8.777,"f":1478,"b":15,"i":1157},
{"t":8.954,"f":1479,"b":88,"i":1155},{"t":8.957,"f":1440,"b":20,"i":1153},
{"t":9.104,"f":1438,"b":88,"i":1155},{"t":9.107,"f":1410,"b":-79,"i":1157},
{"t":9.264,"f":1509,"b":88,"i":1155},{"t":9.267,"f":1470,"b":20,"i":1153}
]},
"transform":[{"fold":["f","b","i"],"as":["k","w"]}],
"encoding":{
 "x":{"field":"t","type":"quantitative","scale":{"domain":[0,10],"nice":false,"zero":false},"axis":null},
 "y":{"field":"w","type":"quantitative","scale":{"domain":[-600,1800],"nice":false,"zero":false},"axis":null},
 "color":{"field":"k","type":"nominal","scale":{"domain":["f","b","i"],"range":["#DC0C0C","#2470FF","#22FF22"]},
  "legend":{"orient":"none","legendX":523,"legendY":207,"title":null,"padding":0,
   "labelExpr":"datum.value == 'f' ? 'FC Watts' : datum.value == 'b' ? 'Battery Watts' : 'Inverter Watts'",
   "labelFont":"Liberation Sans","labelFontWeight":"bold","labelFontSize":24,
   "labelColor":{"expr":"datum.value == 'f' ? '#DC0C0C' : datum.value == 'b' ? '#2470FF' : '#22FF22'"},
   "symbolType":{"expr":"datum.value == 'f' ? 'M-2.9,0L-0.43,0M0.43,0L2.9,0M-0.43,0A0.43,0.43,0,1,1,0.43,0A0.43,0.43,0,1,1,-0.43,0ZM-0.2,0A0.2,0.2,0,1,0,0.2,0A0.2,0.2,0,1,0,-0.2,0Z' : datum.value == 'b' ? 'M-2.9,0L-0.37,0L-0.37,-0.37L0.37,-0.37L0.37,0.37L-0.37,0.37L-0.37,0M0.37,0L2.9,0' : 'M-2.9,0L2.9,0M-0.3,-0.3L0.3,0.3M-0.3,0.3L0.3,-0.3'"},
   "symbolSize":400,"symbolStrokeWidth":2,"labelOffset":22,"rowPadding":5}}
},
"layer":[
 {"transform":[{"filter":"datum.k == 'f'"}],"mark":{"type":"line","strokeWidth":2.5},
  "encoding":{
   "x":{"field":"t","type":"quantitative","scale":{"domain":[0,10],"nice":false,"zero":false},
    "axis":{"orient":"bottom","values":[0,0.5,1,1.5,2,2.5,3,3.5,4,4.5,5,5.5,6,6.5,7,7.5,8,8.5,9,9.5,10],
     "labelExpr":"datum.value % 2 == 0 ? '' + datum.value : ''","tickSize":-7,"labelPadding":16,
     "grid":true,"gridOpacity":{"condition":{"test":"datum.value % 2 == 0 && datum.value > 0 && datum.value < 10","value":1},"value":0},
     "title":"t (hr)","titleFontSize":38,"titlePadding":16}},
   "y":{"field":"w","type":"quantitative","scale":{"domain":[-600,1800],"nice":false,"zero":false},
    "axis":{"orient":"left","values":[-600,-500,-400,-300,-200,-100,0,100,200,300,400,500,600,700,800,900,1000,1100,1200,1300,1400,1500,1600,1700,1800],
     "labelExpr":"datum.value % 600 == 0 ? '' + datum.value : ''","tickSize":-7,"labelPadding":12,
     "grid":true,"gridOpacity":{"condition":{"test":"datum.value % 600 == 0 && datum.value > -600 && datum.value < 1800","value":1},"value":0},
     "title":"Power (Watts)","titleFontSize":36,"titlePadding":42}}
  }},
 {"transform":[{"filter":"datum.k == 'f'"}],"mark":{"type":"point","shape":"circle","filled":false,"size":60,"strokeWidth":2,"opacity":1},
  "encoding":{
   "x":{"field":"t","type":"quantitative","scale":{"domain":[0,10],"nice":false,"zero":false},
    "axis":{"orient":"top","values":[0,0.5,1,1.5,2,2.5,3,3.5,4,4.5,5,5.5,6,6.5,7,7.5,8,8.5,9,9.5,10],"labels":false,"tickSize":-7,"title":null,"grid":false}},
   "y":{"field":"w","type":"quantitative","scale":{"domain":[-600,1800],"nice":false,"zero":false},
    "axis":{"orient":"right","values":[-600,-500,-400,-300,-200,-100,0,100,200,300,400,500,600,700,800,900,1000,1100,1200,1300,1400,1500,1600,1700,1800],"labels":false,"tickSize":-7,"title":null,"grid":false}}
  }},
 {"transform":[{"filter":"datum.k == 'b'"}],"mark":{"type":"line","strokeWidth":2.5}},
 {"transform":[{"filter":"datum.k == 'b'"}],"mark":{"type":"point","shape":"square","filled":true,"size":56,"opacity":1}},
 {"transform":[{"filter":"datum.k == 'i'"}],"mark":{"type":"line","strokeWidth":2.5}},
 {"transform":[{"filter":"datum.k == 'i'"}],"mark":{"type":"point","shape":"M-1,-1L1,1M-1,1L1,-1","filled":false,"size":50,"strokeWidth":2,"opacity":1}}
],
"resolve":{"axis":{"x":"independent","y":"independent"}}
}
